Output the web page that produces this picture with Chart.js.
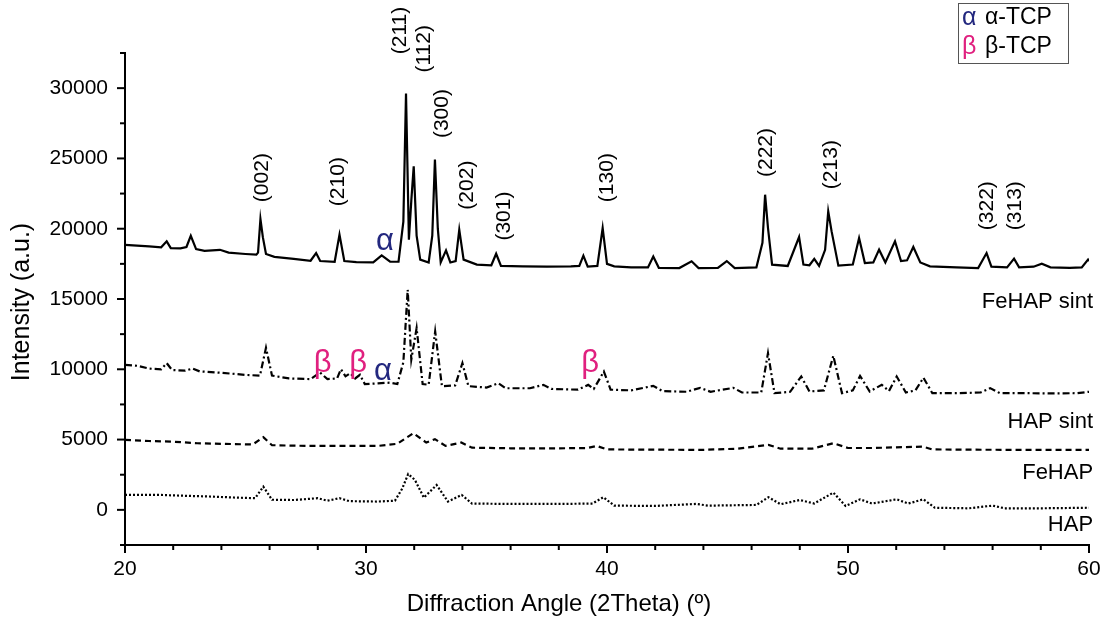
<!DOCTYPE html>
<html><head><meta charset="utf-8">
<script src="https://cdn.jsdelivr.net/npm/chart.js@4.4.0/dist/chart.umd.min.js"></script>
<style>html,body{margin:0;padding:0;background:#fff;}canvas{display:block;}</style>
</head><body>
<canvas id="c" width="1101" height="621"></canvas>
<script>
// ---- data ----
const feHapSintAngle = [20.0,20.5,21.0,21.5,21.73,21.9,22.3,22.55,22.73,22.95,23.3,23.94,24.3,25.0,25.45,25.52,25.62,25.72,25.85,26.2,27.0,27.7,27.93,28.1,28.7,28.9,29.1,29.6,30.3,30.65,31.0,31.35,31.55,31.66,31.78,31.88,31.98,32.1,32.25,32.6,32.75,32.86,32.98,33.1,33.32,33.5,33.72,33.87,34.05,34.6,35.2,35.4,35.6,36.5,37.5,38.5,38.85,39.02,39.2,39.6,39.82,40.0,40.3,41.0,41.7,41.92,42.15,43.0,43.51,43.8,44.6,44.97,45.3,46.2,46.45,46.56,46.68,46.85,47.5,47.97,48.15,48.4,48.6,48.8,49.05,49.18,49.32,49.6,50.2,50.46,50.7,51.05,51.29,51.55,51.95,52.2,52.45,52.71,53.0,53.4,54.5,55.4,55.75,55.95,56.6,56.89,57.1,57.7,58.04,58.4,59.2,59.7,59.96,60.0];
const feHapSintIntensity = [18850,18800,18750,18680,19100,18620,18600,18700,19500,18550,18420,18500,18300,18200,18150,18300,20690,19400,18200,18000,17850,17720,18270,17700,17650,19580,17700,17620,17600,18100,17650,17650,20500,29620,19220,22000,24440,19500,17800,17600,19500,24920,20000,17600,18460,17600,17700,19930,17800,17450,17400,18220,17350,17320,17300,17320,17350,18080,17300,17350,20050,17500,17320,17250,17250,18030,17220,17200,17680,17200,17220,17700,17200,17250,19000,22420,20050,17440,17350,19410,17450,17400,17850,17350,18500,21230,19810,17370,17450,19340,17560,17600,18510,17600,19100,17700,17750,18700,17600,17320,17250,17200,18270,17300,17250,17870,17250,17300,17510,17250,17220,17250,17800,17700];

const hapSintAngle = [20.0,20.5,21.0,21.5,21.73,21.95,22.5,22.8,23.1,24.0,25.0,25.6,25.85,26.1,26.8,27.7,28.09,28.4,28.8,28.96,29.15,29.34,29.55,29.75,29.95,30.5,31.0,31.3,31.55,31.73,31.88,32.1,32.35,32.6,32.87,33.15,33.7,34.0,34.25,35.0,35.49,35.8,36.8,37.36,37.7,38.8,39.22,39.45,39.87,40.15,41.0,41.92,42.3,43.3,43.86,44.3,45.24,45.6,46.4,46.68,46.95,47.6,48.06,48.4,49.0,49.39,49.75,50.2,50.5,50.9,51.4,51.7,52.02,52.4,52.8,53.13,53.5,54.5,55.5,55.9,56.3,57.5,58.5,59.5,60.0];
const hapSintIntensity = [10320,10250,10050,10000,10440,9950,9900,10050,9850,9750,9600,9550,11530,9550,9350,9300,9770,9300,9350,10010,9500,9720,9350,9610,8950,9000,9050,8950,10500,15660,10700,12930,8950,8900,12690,8800,8850,10440,8800,8700,9010,8650,8650,8890,8600,8550,8890,8600,9840,8550,8500,8820,8450,8400,8680,8400,8680,8350,8350,11150,8300,8400,9490,8420,8500,10960,8300,8500,9530,8420,8900,8450,9490,8350,8500,9400,8300,8300,8350,8660,8300,8300,8280,8300,8400];

const feHapAngle = [20.0,21.0,22.0,23.0,24.0,25.3,25.74,26.1,27.5,29.0,30.5,31.3,31.96,32.5,32.86,33.3,33.95,34.4,36.0,38.0,39.2,39.57,40.0,42.0,44.0,45.4,46.7,47.2,48.5,49.4,50.0,51.0,53.1,53.5,55.0,57.0,59.0,60.0];
const feHapIntensity = [4980,4900,4850,4740,4700,4650,5170,4600,4550,4550,4550,4700,5450,4790,5030,4550,4790,4420,4380,4380,4400,4550,4300,4280,4270,4350,4620,4350,4350,4740,4400,4400,4500,4300,4280,4270,4270,4270];

const hapAngle = [20.0,21.5,22.5,23.5,24.5,25.4,25.74,26.1,27.0,28.0,28.4,28.9,29.3,30.5,31.2,31.5,31.75,32.03,32.4,32.93,33.4,33.97,34.4,36.0,38.0,39.4,39.85,40.3,42.0,43.7,44.2,46.2,46.7,47.2,48.0,48.6,49.39,49.9,50.5,51.0,52.02,52.5,53.13,53.6,55.0,56.0,56.5,58.0,60.0];
const hapIntensity = [1060,1060,1000,950,880,830,1650,720,700,830,650,830,620,590,650,1500,2550,2130,870,1770,590,1060,450,420,420,450,900,300,280,420,300,350,900,400,700,450,1230,280,750,450,750,450,750,150,110,300,110,110,150];

const seriesNames = ['FeHAP sint','HAP sint','FeHAP','HAP'];
const seriesLabelY = [14800, 6260, 2630, -1080];

const millerLabels = ['(002)','(210)','(211)','(112)','(300)','(202)','(301)','(130)','(222)','(213)','(322)','(313)'];
const millerAngles = [25.68,28.85,31.40,32.42,33.15,34.18,35.72,40.0,46.62,49.31,55.77,56.95];
const millerIntensity = [23635,23350,34100,32800,28190,23100,20900,23635,25420,24560,21640,21640];

const alphaAngles = [30.79, 30.7];
const alphaIntensity = [19100, 9850];
const betaAngles = [28.2, 29.68, 39.3];
const betaIntensity = [10400, 10400, 10400];

const xTicksMin = 20, xTicksMax = 60, yMin = -2500, yMax = 32500;

const FONT = "'Liberation Sans', Arial, sans-serif";
const ALPHA_COLOR = '#23287f';
const BETA_COLOR = '#e0207f';

function pts(a, b){ return a.map((v,i)=>({x:v, y:b[i]})); }

const decor = {
  id:'decor',
  afterDraw(chart){
    const {ctx, chartArea, scales:{x, y}} = chart;
    ctx.save();
    ctx.strokeStyle = '#000'; ctx.lineWidth = 2; ctx.lineCap='butt';
    y.ticks.forEach(t=>{
      const py = y.getPixelForValue(t.value);
      const len = (t.value % 5000 === 0) ? 8 : 5;
      ctx.beginPath(); ctx.moveTo(chartArea.left, py); ctx.lineTo(chartArea.left - len, py); ctx.stroke();
    });
    x.ticks.forEach(t=>{
      const px = x.getPixelForValue(t.value);
      const len = (t.value % 10 === 0) ? 8 : 5;
      ctx.beginPath(); ctx.moveTo(px, chartArea.bottom); ctx.lineTo(px, chartArea.bottom + len); ctx.stroke();
    });
    ctx.fillStyle = '#000';
    // axis titles
    ctx.textAlign = 'center'; ctx.textBaseline = 'middle';
    ctx.font = '24px ' + FONT;
    ctx.fillText('Diffraction Angle (2Theta) (º)', 559, 604);
    ctx.save();
    ctx.translate(22, 302); ctx.rotate(-Math.PI/2);
    ctx.font = '25px ' + FONT;
    ctx.fillText('Intensity (a.u.)', 0, 0);
    ctx.restore();
    // Miller indices
    ctx.font = '21px ' + FONT;
    millerLabels.forEach((s,i)=>{
      ctx.save();
      ctx.translate(x.getPixelForValue(millerAngles[i]), y.getPixelForValue(millerIntensity[i]));
      ctx.rotate(-Math.PI/2);
      ctx.fillText(s, 0, 0);
      ctx.restore();
    });
    // series names
    ctx.font = '22px ' + FONT;
    ctx.textAlign = 'right';
    seriesNames.forEach((s,i)=>{
      ctx.fillText(s, x.getPixelForValue(60.17), y.getPixelForValue(seriesLabelY[i]));
    });
    // greek markers
    ctx.textAlign = 'center';
    ctx.font = '31px ' + FONT;
    ctx.fillStyle = ALPHA_COLOR;
    alphaAngles.forEach((a,i)=> ctx.fillText('α', x.getPixelForValue(a), y.getPixelForValue(alphaIntensity[i])));
    ctx.fillStyle = BETA_COLOR;
    betaAngles.forEach((a,i)=> ctx.fillText('β', x.getPixelForValue(a), y.getPixelForValue(betaIntensity[i])));
    // legend box
    ctx.strokeStyle = '#555'; ctx.lineWidth = 1;
    ctx.strokeRect(958.5, 3.5, 110, 60);
    ctx.textAlign = 'left'; ctx.textBaseline = 'middle';
    ctx.font = '25px ' + FONT;
    ctx.fillStyle = ALPHA_COLOR; ctx.fillText('α', 962, 18);
    ctx.fillStyle = BETA_COLOR; ctx.fillText('β', 962, 47);
    ctx.font = '23px ' + FONT;
    ctx.fillStyle = '#000';
    ctx.fillText('α-TCP', 985, 18);
    ctx.fillText('β-TCP', 985, 47);
    ctx.restore();
  }
};

new Chart(document.getElementById('c'), {
  type:'line',
  data:{
    datasets:[
      {label:seriesNames[0], data:pts(feHapSintAngle, feHapSintIntensity), borderColor:'#000', borderWidth:2.2},
      {label:seriesNames[1], data:pts(hapSintAngle, hapSintIntensity), borderColor:'#000', borderWidth:2.2, borderDash:[7,3,2,3]},
      {label:seriesNames[2], data:pts(feHapAngle, feHapIntensity), borderColor:'#000', borderWidth:2.2, borderDash:[6,4]},
      {label:seriesNames[3], data:pts(hapAngle, hapIntensity), borderColor:'#000', borderWidth:2.2, borderDash:[2,2]}
    ]
  },
  options:{
    responsive:false, animation:false, devicePixelRatio:1,
    layout:{padding:{left:0, right:12, top:53, bottom:0}},
    elements:{point:{radius:0}, line:{tension:0}},
    plugins:{legend:{display:false}, tooltip:{enabled:false}},
    scales:{
      x:{type:'linear', min:xTicksMin, max:xTicksMax,
         afterFit(s){ s.height = 76; s.paddingLeft = 0; s.paddingRight = 0; },
         ticks:{stepSize:2, autoSkip:false, maxRotation:0, padding:12, color:'#000', font:{family:FONT, size:21},
           callback:(v)=> v % 10 === 0 ? String(v) : ''},
         grid:{display:false, drawTicks:false},
         border:{display:true, color:'#000', width:2},
         title:{display:false}
      },
      y:{type:'linear', min:yMin, max:yMax,
         afterFit(s){ s.width = 125; s.paddingTop = 0; s.paddingBottom = 0; },
         ticks:{stepSize:2500, autoSkip:false, padding:17, color:'#000', font:{family:FONT, size:21},
           callback:(v)=> v % 5000 === 0 ? String(v) : ''},
         grid:{display:false, drawTicks:false},
         border:{display:true, color:'#000', width:2},
         title:{display:false}
      }
    }
  },
  plugins:[decor]
});
</script>
</body></html>
